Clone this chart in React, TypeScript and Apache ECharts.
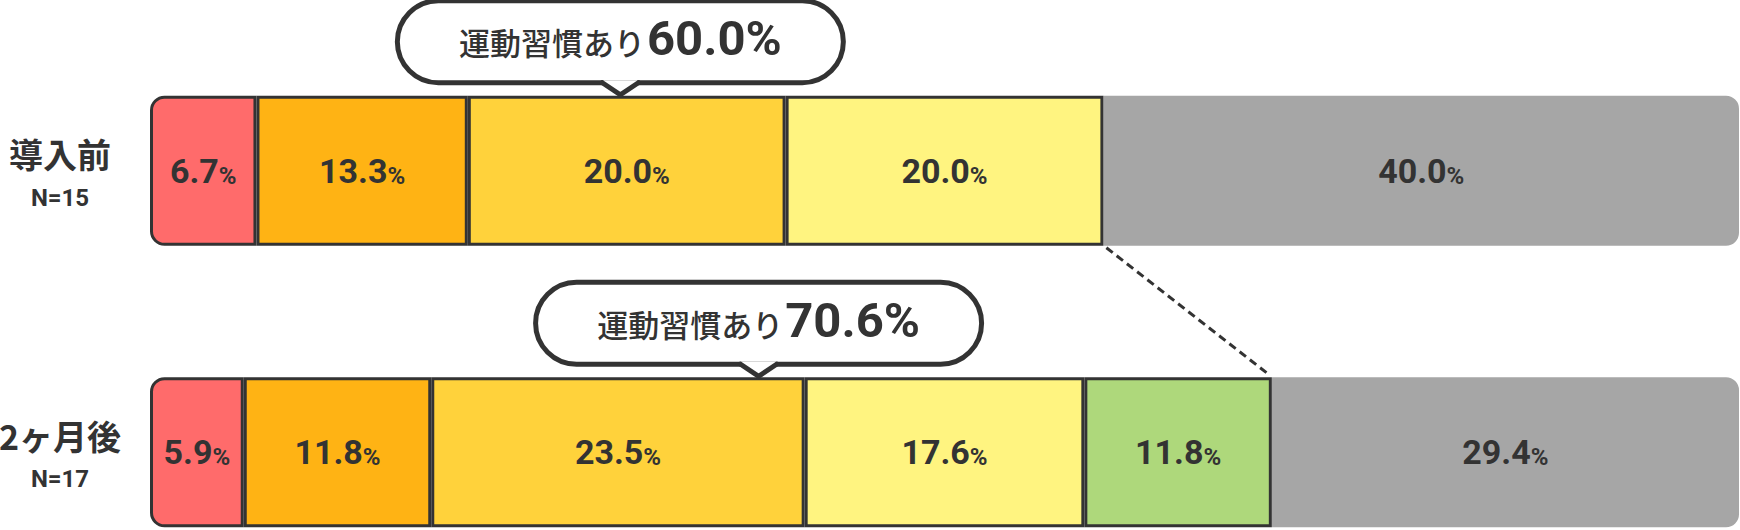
import React, { useEffect, useRef } from "react";
import * as echarts from "echarts";

// ---- data ----
const CATEGORIES = ["導入前", "2ヶ月後"];
const SAMPLE_SIZES = [15, 17];
const SEGMENT_NAMES = ["区分1", "区分2", "区分3", "区分4", "区分5", "運動習慣なし"];
const SEG1 = [6.7, 5.9];
const SEG2 = [13.3, 11.8];
const SEG3 = [20.0, 23.5];
const SEG4 = [20.0, 17.6];
const SEG5: (number | null)[] = [null, 11.8];
const NO_HABIT = [40.0, 29.4];
const HABIT_LABEL = "運動習慣あり";
// where each callout's pointer sits, in % along the bar
const CALLOUT_ANCHOR = [29.6, 38.3];

const SEGMENTS = [SEG1, SEG2, SEG3, SEG4, SEG5, NO_HABIT];
const COLORS = ["#FF6B6B", "#FFB314", "#FFD23B", "#FFF480", "#AED87B", "#A6A6A6"];
const INK = "#333333";
const FONT_NUM = 'Roboto, "Noto Sans", sans-serif';
const FONT_JP = '"Noto Sans CJK JP", "Noto Sans", sans-serif';
const BAR_THICKNESS = 150;

export default function App() {
  const ref = useRef<HTMLDivElement>(null);

  useEffect(() => {
    if (!ref.current) return;
    const chart = echarts.init(ref.current, null, { renderer: "svg" });

    const series = SEGMENTS.map((vals, k) => {
      const isHabit = k < SEGMENTS.length - 1;
      return {
        type: "bar",
        name: SEGMENT_NAMES[k],
        stack: "total",
        barWidth: BAR_THICKNESS,
        silent: true,
        z: isHabit ? 3 : 2,
        data: vals,
        itemStyle: {
          color: COLORS[k],
          borderColor: isHabit ? INK : "transparent",
          borderWidth: isHabit ? 3 : 0,
          borderRadius: k === 0 ? [13, 0, 0, 13] : !isHabit ? [0, 13, 13, 0] : 0,
        },
        label: {
          show: true,
          position: "inside",
          formatter: (p: any) => `{v|${Number(p.value).toFixed(1)}}{u|%}`,
          rich: {
            v: { fontSize: 34, fontWeight: "bold", fontFamily: FONT_NUM, color: INK, lineHeight: 34 },
            u: { fontSize: 24, fontWeight: "bold", fontFamily: FONT_NUM, color: INK, lineHeight: 12, verticalAlign: "bottom" },
          },
        },
      };
    });

    chart.setOption({
      animation: false,
      backgroundColor: "#ffffff",
      grid: { left: 150, right: 1, top: 30, height: 563, containLabel: false, outerBoundsMode: "none" },
      xAxis: { type: "value", min: 0, max: 100, show: false },
      yAxis: {
        type: "category",
        inverse: true,
        data: CATEGORIES,
        axisLine: { show: false },
        axisTick: { show: false },
        splitLine: { show: false },
        axisLabel: {
          margin: 90,
          align: "center",
          padding: [10, 0, 0, 0],
          formatter: (v: string, i: number) => `{t|${v}}\n{n|N=${SAMPLE_SIZES[i]}}`,
          rich: {
            t: { fontSize: 34, fontWeight: "bold", fontFamily: FONT_JP, color: INK, lineHeight: 44 },
            n: { fontSize: 24, fontWeight: "bold", fontFamily: FONT_NUM, color: INK, lineHeight: 44 },
          },
        },
      },
      series,
    });

    // annotations
    const habitTotals = CATEGORIES.map((_, i) =>
      SEGMENTS.slice(0, SEGMENTS.length - 1).reduce((s, arr) => s + (arr[i] ?? 0), 0)
    );
    const graphics: any[] = [];
    const ends = CATEGORIES.map((_, i) => chart.convertToPixel({ gridIndex: 0 }, [habitTotals[i], i]) as number[]);

    // dashed connector
    graphics.push({
      type: "line",
      z: 10,
      silent: true,
      shape: {
        x1: ends[0][0] + 3,
        y1: ends[0][1] + BAR_THICKNESS / 2 + 2,
        x2: ends[1][0] - 2,
        y2: ends[1][1] - BAR_THICKNESS / 2 - 2,
      },
      style: { stroke: INK, lineWidth: 3, lineDash: [8, 5] },
    });

    const W = 446;
    const H = 82;
    CATEGORIES.forEach((_, i) => {
      const [ax, yc] = chart.convertToPixel({ gridIndex: 0 }, [CALLOUT_ANCHOR[i], i]) as number[];
      const barTop = yc - BAR_THICKNESS / 2;
      const bBot = barTop - 13;
      const top = bBot - H;
      const tip = barTop - 1;
      const half = 17;
      graphics.push({
        type: "group",
        z: 20,
        silent: true,
        children: [
          {
            type: "rect",
            z: 20,
            shape: { x: ax - W / 2, y: top, width: W, height: H, r: H / 2 },
            style: { fill: "#ffffff", stroke: INK, lineWidth: 5 },
          },
          {
            type: "polygon",
            z: 21,
            shape: {
              points: [
                [ax - half, bBot - 2.6],
                [ax + half, bBot - 2.6],
                [ax + half, bBot],
                [ax, tip],
                [ax - half, bBot],
              ],
            },
            style: { fill: "#ffffff" },
          },
          {
            type: "polyline",
            z: 22,
            shape: { points: [[ax - half - 1, bBot], [ax, tip], [ax + half + 1, bBot]] },
            style: { stroke: INK, lineWidth: 5, fill: null, lineJoin: "miter", lineCap: "round" },
          },
          {
            type: "text",
            z: 23,
            style: {
              x: ax,
              y: top + H / 2,
              text: `{a|${HABIT_LABEL}}{b|${habitTotals[i].toFixed(1)}%}`,
              align: "center",
              verticalAlign: "middle",
              rich: {
                a: { fontSize: 31, fontWeight: 500, fontFamily: FONT_JP, fill: INK },
                b: { fontSize: 49, fontWeight: "bold", fontFamily: FONT_NUM, fill: INK, padding: [0, 0, 6, 2] },
              },
            },
          },
        ],
      });
    });

    chart.setOption({ graphic: graphics });

    return () => chart.dispose();
  }, []);

  return (
    <div style={{ position: "absolute", left: 0, top: 0, width: 1740, height: 530, overflow: "hidden", background: "#fff" }}>
      <div ref={ref} style={{ width: 1740, height: 620 }} />
    </div>
  );
}
